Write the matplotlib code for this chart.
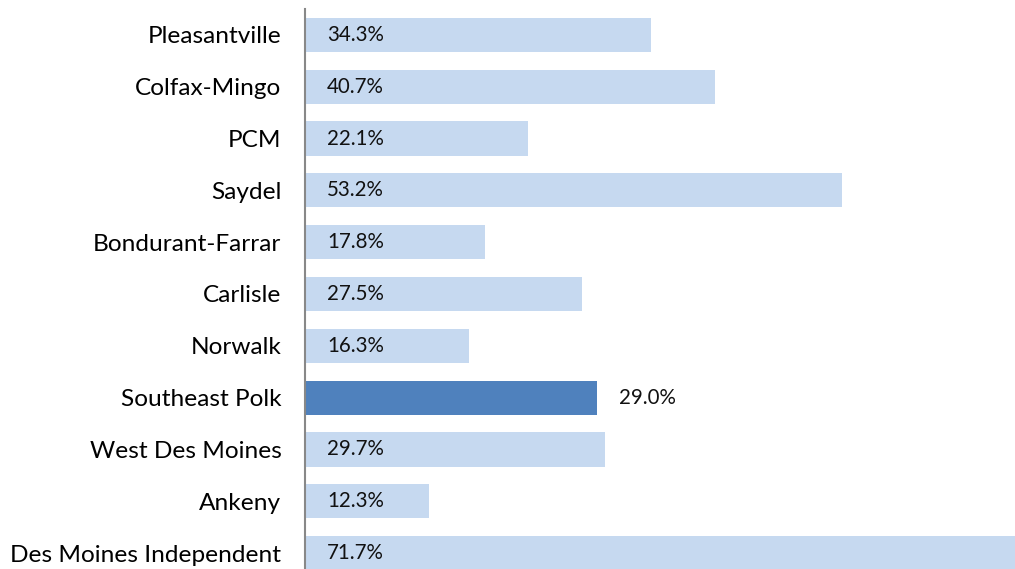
import matplotlib
matplotlib.use("Agg")
import matplotlib.pyplot as plt

categories = ["Pleasantville", "Colfax-Mingo", "PCM", "Saydel", "Bondurant-Farrar",
              "Carlisle", "Norwalk", "Southeast Polk", "West Des Moines", "Ankeny",
              "Des Moines Independent"]
values = [34.3, 40.7, 22.1, 53.2, 17.8, 27.5, 16.3, 29.0, 29.7, 12.3, 71.7]
highlight = "Southeast Polk"

plt.rcParams['font.family'] = ['Lato', 'DejaVu Sans']

fig = plt.figure(figsize=(10.15, 5.69), dpi=100)
ax = fig.add_axes([305/1015, 1 - 579/569, 710/1015, 570/569])

n = len(categories)
ys = list(range(n))[::-1]
light = "#C6D9F0"
dark = "#4F81BD"
colors = [dark if c == highlight else light for c in categories]
ax.barh(ys, values, height=0.66, color=colors, zorder=2)

ax.set_xlim(0, 70.4)
ax.set_ylim(-0.5, n - 0.5)
ax.set_yticks(ys)
ax.set_yticklabels(categories, fontsize=17.6)
ax.tick_params(axis='y', length=0, pad=17)
ax.set_xticks([])
for s in ["top", "right", "bottom"]:
    ax.spines[s].set_visible(False)
ax.spines["left"].set_color("#888888")
ax.spines["left"].set_linewidth(1.5)
ax.spines["left"].set_zorder(3)

for y, v, c in zip(ys, values, categories):
    if c == highlight:
        ax.text(v + 2.15, y, f"{v:.1f}%", va="center", ha="left", fontsize=14.8, color="#111111")
    else:
        ax.text(2.2, y, f"{v:.1f}%", va="center", ha="left", fontsize=14.8, color="#111111", zorder=4)

fig.savefig("out.png", dpi=100)
